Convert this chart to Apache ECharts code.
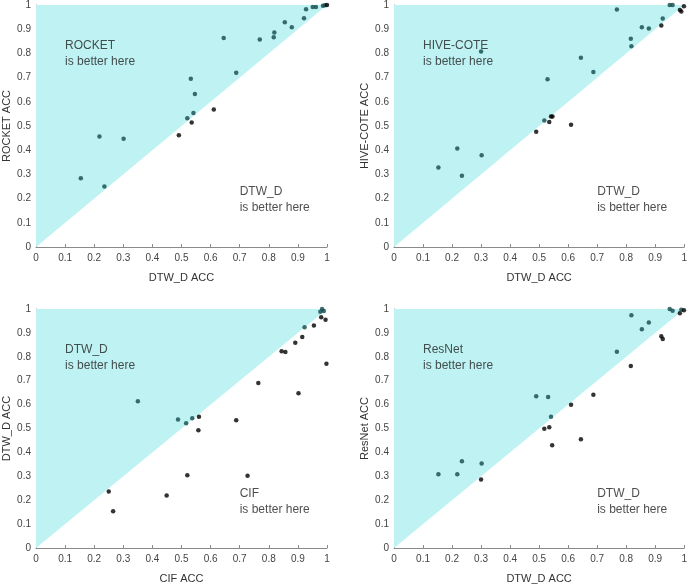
<!DOCTYPE html>
<html><head><meta charset="utf-8">
<script src="https://cdn.jsdelivr.net/npm/echarts@6/dist/echarts.min.js"></script>
<style>html,body{margin:0;padding:0;background:#fff}#c{width:690px;height:585px}</style>
</head><body><div id="c"></div>
<script>
// ROCKET vs DTW_D : [DTW_D ACC, ROCKET ACC]
const rocketVsDtw = [[0.154,0.284],[0.218,0.457],[0.235,0.250],[0.301,0.447],[0.491,0.462],[0.520,0.532],[0.532,0.695],[0.535,0.514],[0.541,0.554],[0.546,0.632],[0.611,0.568],[0.645,0.864],[0.688,0.720],[0.769,0.857],[0.817,0.867],[0.819,0.886],[0.855,0.929],[0.879,0.908],[0.921,0.945],[0.928,0.982],[0.951,0.992],[0.962,0.992],[0.986,0.997],[0.993,0.999],[1.0,1.0]];
// HIVE-COTE vs DTW_D : [DTW_D ACC, HIVE-COTE ACC]
const hiveVsDtw = [[0.153,0.329],[0.218,0.407],[0.234,0.294],[0.302,0.379],[0.300,0.808],[0.490,0.476],[0.518,0.523],[0.529,0.693],[0.535,0.517],[0.541,0.539],[0.546,0.539],[0.610,0.505],[0.644,0.782],[0.687,0.723],[0.768,0.981],[0.816,0.861],[0.818,0.830],[0.854,0.908],[0.878,0.903],[0.921,0.915],[0.926,0.944],[0.950,1.0],[0.960,1.0],[0.985,0.979],[0.990,0.973],[0.999,0.995]];
// DTW_D vs CIF : [CIF ACC, DTW_D ACC]
const dtwVsCif = [[0.250,0.236],[0.265,0.154],[0.350,0.614],[0.449,0.220],[0.488,0.538],[0.516,0.522],[0.520,0.304],[0.537,0.543],[0.558,0.493],[0.560,0.549],[0.688,0.534],[0.727,0.302],[0.764,0.690],[0.844,0.823],[0.857,0.820],[0.891,0.859],[0.902,0.648],[0.915,0.883],[0.923,0.924],[0.955,0.931],[0.980,0.966],[0.995,0.955],[0.998,0.771],[0.977,0.989],[0.983,1.0],[0.989,0.992]];
// ResNet vs DTW_D : [DTW_D ACC, ResNet ACC]
const resnetVsDtw = [[0.153,0.309],[0.218,0.309],[0.234,0.363],[0.302,0.354],[0.300,0.287],[0.490,0.635],[0.518,0.499],[0.531,0.632],[0.535,0.505],[0.541,0.549],[0.545,0.430],[0.610,0.599],[0.644,0.455],[0.687,0.641],[0.768,0.821],[0.816,0.762],[0.818,0.974],[0.854,0.915],[0.878,0.944],[0.921,0.886],[0.926,0.875],[0.950,1.0],[0.960,0.993],[0.985,0.982],[0.990,0.997],[0.999,0.995]];

const panels = [
  {data: rocketVsDtw, xName: 'DTW_D ACC', yName: 'ROCKET ACC', upper: 'ROCKET', lower: 'DTW_D'},
  {data: hiveVsDtw, xName: 'DTW_D ACC', yName: 'HIVE-COTE ACC', upper: 'HIVE-COTE', lower: 'DTW_D'},
  {data: dtwVsCif, xName: 'CIF ACC', yName: 'DTW_D ACC', upper: 'DTW_D', lower: 'CIF'},
  {data: resnetVsDtw, xName: 'DTW_D ACC', yName: 'ResNet ACC', upper: 'ResNet', lower: 'DTW_D'}
];
const upperLabelPos = [0.10, 0.797];
const lowerLabelPos = [0.70, 0.194];
const triangle = [[0,0],[0,1],[1,1]];

const grids = [
  {left: 32, top: 4, width: 295, height: 243},
  {left: 394, top: 4, width: 294, height: 243},
  {left: 32, top: 309, width: 295, height: 243},
  {left: 394, top: 309, width: 294, height: 243}
];
const FONT = 'Liberation Sans, Arial, sans-serif';
const axisCommon = {
  min: 0, max: 1, interval: 0.1,
  axisLine: {show: true, lineStyle: {color: '#8a8a8a', width: 1}},
  axisTick: {show: true, inside: true, length: 3, lineStyle: {color: '#8a8a8a'}},
  axisLabel: {color: '#444', fontSize: 10, fontFamily: FONT, formatter: v => String(+v.toFixed(1))},
  splitLine: {show: false},
  nameLocation: 'middle',
  nameTextStyle: {color: '#333', fontSize: 11, fontFamily: FONT}
};
const xAxis = [], yAxis = [], series = [];
panels.forEach((p, i) => {
  xAxis.push(Object.assign({}, axisCommon, {type: 'value', gridIndex: i, name: p.xName, nameGap: 25,
    axisLabel: Object.assign({}, axisCommon.axisLabel, {margin: 6})}));
  yAxis.push(Object.assign({}, axisCommon, {type: 'value', gridIndex: i, name: p.yName, nameGap: 24,
    axisLabel: Object.assign({}, axisCommon.axisLabel, {margin: 5})}));
  series.push({
    type: 'custom', xAxisIndex: i, yAxisIndex: i, silent: true, z: 1,
    data: [0],
    renderItem: (params, api) => ({
      type: 'polygon',
      shape: {points: triangle.map(pt => api.coord(pt))},
      style: {fill: '#bff3f3'}
    })
  });
  series.push({
    type: 'scatter', xAxisIndex: i, yAxisIndex: i, z: 3,
    symbolSize: 4.5,
    data: p.data,
    itemStyle: {color: params => params.value[1] > params.value[0] ? '#12494a' : '#000000'}
  });
  series.push({
    type: 'scatter', xAxisIndex: i, yAxisIndex: i, z: 4, symbolSize: 0, silent: true,
    data: [upperLabelPos],
    label: {show: true, position: 'right', distance: 0, formatter: p.upper + '\nis better here',
      color: '#222', fontSize: 12, fontFamily: FONT, lineHeight: 16, align: 'left'}
  });
  series.push({
    type: 'scatter', xAxisIndex: i, yAxisIndex: i, z: 4, symbolSize: 0, silent: true,
    data: [lowerLabelPos],
    label: {show: true, position: 'right', distance: 0, formatter: p.lower + '\nis better here',
      color: '#222', fontSize: 12, fontFamily: FONT, lineHeight: 16, align: 'left'}
  });
});
const chart = echarts.init(document.getElementById('c'), null, {renderer: 'canvas'});
chart.setOption({animation: false, grid: grids, xAxis, yAxis, series});
</script></body></html>
